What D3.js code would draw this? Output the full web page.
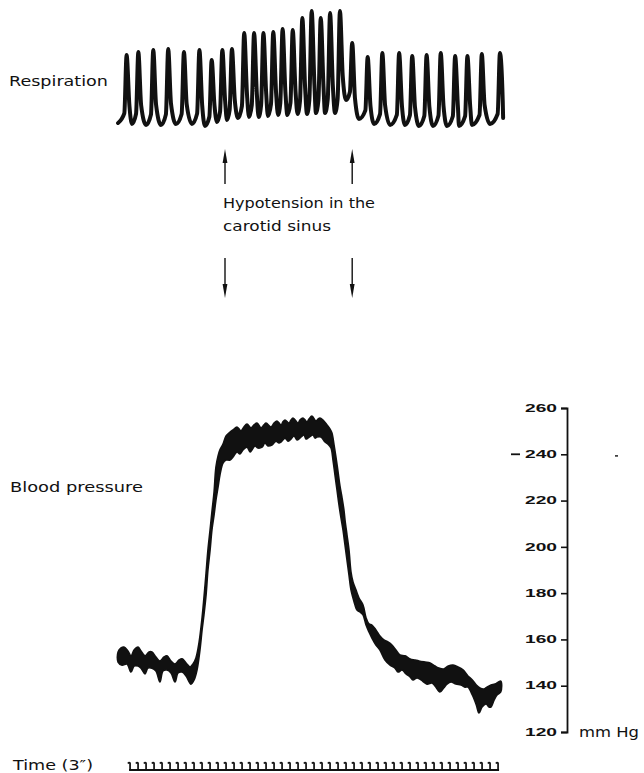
<!DOCTYPE html>
<html><head><meta charset="utf-8">
<script src="https://cdn.jsdelivr.net/npm/d3@7"></script>
<style>html,body{margin:0;padding:0;background:#fff;}svg{display:block;}</style>
</head><body>
<script>
// ---------- DATA ----------
// Respiration trace: peaks and troughs (time in s, deflection in mm)
const respStartT = 1.9, respStartV = 4;
const respPeakT = [5.1, 9.5, 15.1, 20.7, 26.6, 32.4, 37.0, 41.0, 44.6, 49.2, 52.9, 56.4, 60.1, 63.6, 67.4, 71.0, 74.5, 77.9, 81.4, 85.1, 89.7, 95.5, 101.0, 107.3, 112.2, 117.6, 122.9, 128.3, 132.9, 138.3, 145.1];
const respPeakV = [72, 75, 77, 78, 75, 77, 67, 77, 78, 94, 94, 94, 95, 98, 97, 109, 116, 109, 114, 116, 84, 70, 74, 74, 71, 72, 74, 71, 71, 73, 74];
const respTroughT = [7.1, 12.4, 18.0, 23.6, 29.6, 34.5, 39.0, 42.75, 46.9, 51.0, 54.6, 58.1, 61.9, 65.4, 69.2, 72.75, 76.1, 79.5, 83.25, 87.4, 92.25, 97.9, 103.9, 109.5, 114.75, 120.0, 125.25, 129.75, 134.6, 141.4, 146.3];
const respTroughV = [3, 2, 2, 3, 3, 1, 5, 7, 9, 10, 10, 11, 12, 12, 13, 13, 14, 14, 14, 27, 8, 3, 2, 2, 1, 1, 1, 1, 2, 3, 9];

// Blood pressure band: upper edge and lower edge (time in s, mm Hg)
const bpTopT = [1.9, 3.0, 4.1, 5.6, 6.75, 7.9, 9.4, 10.5, 12.0, 13.5, 14.6, 16.1, 17.6, 19.1, 20.25, 21.75, 23.25, 24.75, 25.9, 27.4, 28.9, 30.0, 31.1, 32.25, 33.4, 34.1, 34.9, 35.6, 36.4, 37.1, 37.9, 38.6, 39.4, 40.1, 41.25, 42.4, 43.9, 45.0, 46.5, 48.0, 49.1, 50.25, 51.75, 52.9, 54.0, 55.5, 56.6, 57.4, 59.25, 60.4, 61.5, 63.0, 63.75, 64.5, 66.0, 66.75, 67.5, 69.4, 70.1, 71.25, 72.75, 73.5, 74.6, 76.1, 76.9, 77.6, 78.75, 80.25, 81.4, 82.1, 82.9, 83.6, 84.4, 85.1, 85.9, 86.6, 87.0, 87.75, 88.5, 89.25, 90.0, 91.1, 92.25, 93.75, 94.9, 96.0, 97.1, 98.6, 100.1, 101.6, 103.1, 104.6, 106.1, 107.6, 109.5, 111.4, 113.25, 114.75, 117.0, 118.9, 120.75, 122.25, 124.0, 125.75, 127.5, 129.4, 131.25, 133.1, 134.75, 136.25, 137.6, 139.1, 140.25, 141.75, 143.25, 145.4];
const bpTopV = [154.6, 156.3, 156.7, 155.0, 152.9, 155.4, 156.7, 155.0, 152.9, 154.6, 154.6, 152.4, 150.7, 152.4, 152.9, 150.7, 149.4, 151.1, 151.6, 149.8, 148.1, 149.4, 152.0, 158.5, 169.3, 177.9, 188.7, 198.6, 207.3, 215.1, 223.7, 234.5, 239.3, 241.9, 244.4, 247.9, 249.6, 250.5, 251.8, 250.1, 251.8, 253.1, 251.4, 252.7, 253.5, 251.4, 252.7, 253.5, 251.8, 253.5, 254.4, 252.7, 254.0, 254.8, 253.5, 254.8, 255.7, 253.5, 254.8, 255.7, 254.0, 255.2, 256.5, 254.4, 255.2, 255.7, 254.8, 252.7, 250.9, 249.2, 244.0, 238.8, 232.3, 226.3, 221.1, 215.9, 211.6, 205.1, 198.6, 189.1, 184.8, 181.4, 177.9, 174.9, 169.3, 166.7, 166.2, 164.1, 161.5, 159.8, 158.9, 157.6, 155.4, 153.3, 152.9, 151.6, 151.1, 150.7, 150.2, 149.8, 148.5, 147.6, 147.2, 148.5, 148.9, 148.1, 146.8, 144.2, 142.5, 140.3, 139.0, 138.6, 139.4, 140.3, 140.7, 142.0];
const bpBotT = [1.9, 3.4, 5.25, 6.75, 7.9, 9.4, 10.5, 12.0, 13.1, 14.6, 16.1, 17.6, 18.75, 20.25, 21.75, 23.25, 24.4, 25.9, 27.4, 29.25, 30.4, 31.5, 32.6, 33.4, 34.1, 34.9, 35.6, 36.4, 37.1, 37.9, 38.6, 39.4, 40.1, 41.25, 42.4, 43.9, 45.0, 46.5, 47.6, 48.75, 50.25, 51.4, 52.1, 53.25, 54.4, 55.9, 57.0, 58.1, 59.6, 61.1, 62.25, 63.0, 64.5, 65.6, 66.4, 67.9, 69.0, 70.1, 71.6, 72.4, 73.1, 75.0, 75.75, 76.5, 78.0, 79.5, 80.6, 81.75, 82.5, 83.25, 84.0, 84.75, 85.5, 86.25, 87.0, 87.75, 88.5, 89.25, 90.0, 90.75, 91.5, 92.6, 93.75, 94.9, 96.0, 97.1, 98.6, 100.1, 102.0, 103.9, 105.75, 106.9, 108.4, 109.9, 111.4, 112.5, 114.0, 115.5, 117.75, 119.6, 120.75, 122.6, 124.0, 125.25, 126.75, 128.6, 130.5, 132.0, 133.1, 134.75, 136.25, 137.25, 138.4, 139.9, 141.0, 141.75, 142.9, 144.0, 145.4];
const bpBotV = [150.2, 148.9, 149.4, 145.9, 148.5, 148.5, 147.6, 145.1, 147.6, 147.6, 146.4, 141.6, 146.4, 146.8, 145.5, 141.6, 145.5, 145.9, 144.2, 140.7, 142.5, 146.8, 155.4, 164.1, 170.6, 179.2, 190.0, 198.6, 207.3, 213.8, 220.2, 225.9, 231.0, 236.2, 237.5, 237.5, 238.8, 241.0, 240.1, 241.9, 243.1, 241.0, 241.9, 243.6, 242.7, 243.1, 244.9, 243.6, 244.0, 245.7, 244.9, 245.3, 247.0, 245.7, 246.2, 247.9, 246.2, 247.0, 248.3, 246.6, 247.0, 248.3, 247.0, 247.5, 247.5, 245.3, 244.4, 242.7, 237.5, 231.0, 224.6, 218.1, 212.5, 207.3, 200.8, 194.3, 187.8, 181.4, 177.9, 174.9, 172.7, 171.9, 170.6, 166.2, 163.2, 160.6, 157.6, 155.4, 151.1, 148.9, 147.6, 145.9, 146.8, 145.1, 143.8, 142.5, 143.4, 142.5, 140.7, 141.2, 139.9, 137.3, 139.0, 140.7, 141.6, 140.7, 140.3, 139.4, 139.4, 136.0, 131.7, 128.2, 130.8, 132.1, 130.8, 130.8, 133.8, 136.0, 137.3];

const bpTicks = [260, 240, 220, 200, 180, 160, 140, 120];
const stimulusT = [42.0, 89.7];          // start / end of carotid sinus hypotension
const timeMarkStart = 6.4, timeMarkStep = 3, timeMarkEnd = 145;   // time marker every 3 s

// ---------- DRAWING ----------
const W = 644, H = 773, ink = "#111111", FONT = "DejaVu Sans";
const svg = d3.select("body").append("svg").attr("width", W).attr("height", H);

const x  = d3.scaleLinear().domain([0, 150]).range([113, 513]);
const yR = d3.scaleLinear().domain([0, 120]).range([127, 7]);
const yB = d3.scaleLinear().domain([120, 260]).range([732, 408]);

// respiration trace
const rp = [[x(respStartT), yR(respStartV)]];
respPeakT.forEach((t, i) => {
  const px = x(t), py = yR(respPeakV[i]);
  const prevY = rp[rp.length - 1][1];
  const tx = x(respTroughT[i]), ty = yR(respTroughV[i]);
  rp.push([px - 2.3, prevY - 0.14 * (prevY - py)]);
  rp.push([px, py]);
  rp.push([px + 2.8, ty - 0.27 * (ty - py)]);
  rp.push([tx, ty]);
});
svg.append("path")
  .attr("d", d3.line().curve(d3.curveMonotoneX)(rp))
  .attr("fill", "none").attr("stroke", ink).attr("stroke-width", 4)
  .attr("stroke-linejoin", "round").attr("stroke-linecap", "round");

// blood pressure band
const topPts = bpTopT.map((t, i) => [x(t), yB(bpTopV[i])]);
const botPts = bpBotT.map((t, i) => [x(t), yB(bpBotV[i])]).reverse();
svg.append("path")
  .attr("d", d3.line().curve(d3.curveCatmullRomClosed.alpha(0.5))(topPts.concat(botPts)))
  .attr("fill", ink).attr("stroke", ink).attr("stroke-width", 1.6).attr("stroke-linejoin", "round");

// mm Hg axis
const ax = svg.append("g").attr("transform", "translate(567,0)")
  .attr("font-family", FONT).attr("font-size", 15).attr("font-weight", "bold")
  .call(d3.axisLeft(yB).tickValues(bpTicks).tickSize(6).tickSizeOuter(6).tickPadding(4));
ax.select(".domain").attr("stroke", ink).attr("stroke-width", 1.8);
ax.selectAll(".tick line").attr("stroke", ink).attr("stroke-width", 1.6);
ax.selectAll(".tick text").attr("fill", ink).attr("textLength", 32).attr("lengthAdjust", "spacingAndGlyphs");
svg.append("text").attr("x", 579).attr("y", 737).attr("font-family", FONT).attr("font-size", 14)
  .attr("fill", ink).attr("textLength", 60).attr("lengthAdjust", "spacingAndGlyphs").text("mm Hg");
// stray specks of the original record
svg.append("line").attr("x1", 511).attr("x2", 520).attr("y1", yB(240)).attr("y2", yB(240)).attr("stroke", ink).attr("stroke-width", 1.8);
svg.append("line").attr("x1", 615).attr("x2", 618).attr("y1", yB(239.3)).attr("y2", yB(239.3)).attr("stroke", ink).attr("stroke-width", 1.4);

// arrows
stimulusT.forEach(t => {
  const ax0 = x(t);
  svg.append("line").attr("x1", ax0).attr("x2", ax0).attr("y1", 184).attr("y2", 158).attr("stroke", ink).attr("stroke-width", 1.4);
  svg.append("path").attr("d", `M${ax0},149 L${ax0 - 2.4},163 L${ax0 + 2.4},163 Z`).attr("fill", ink);
  svg.append("line").attr("x1", ax0).attr("x2", ax0).attr("y1", 258).attr("y2", 288).attr("stroke", ink).attr("stroke-width", 1.4);
  svg.append("path").attr("d", `M${ax0},298 L${ax0 - 2.4},284 L${ax0 + 2.4},284 Z`).attr("fill", ink);
});

// time marker
const marks = d3.range(timeMarkStart, timeMarkEnd, timeMarkStep);
svg.append("line").attr("x1", x(marks[0]) - 1).attr("x2", x(marks[marks.length - 1]) + 1)
  .attr("y1", 770).attr("y2", 770).attr("stroke", ink).attr("stroke-width", 2.2);
svg.append("g").selectAll("path").data(marks).join("path")
  .attr("d", d => `M${x(d)},770 L${x(d)},763 Q${x(d) - 1},762 ${x(d) - 2.2},763.5`)
  .attr("fill", "none").attr("stroke", ink).attr("stroke-width", 1.7);

// labels
function label(txt, xx, yy, len, size) {
  svg.append("text").attr("x", xx).attr("y", yy).attr("font-family", FONT).attr("font-size", size || 13.5)
    .attr("fill", ink).attr("textLength", len).attr("lengthAdjust", "spacingAndGlyphs").text(txt);
}
label("Respiration", 9, 86, 99);
label("Hypotension in the", 223, 208, 152);
label("carotid sinus", 223, 231, 108);
label("Blood pressure", 10, 492, 133);
label("Time (3\u2033)", 13, 770, 80);
</script>
</body></html>
